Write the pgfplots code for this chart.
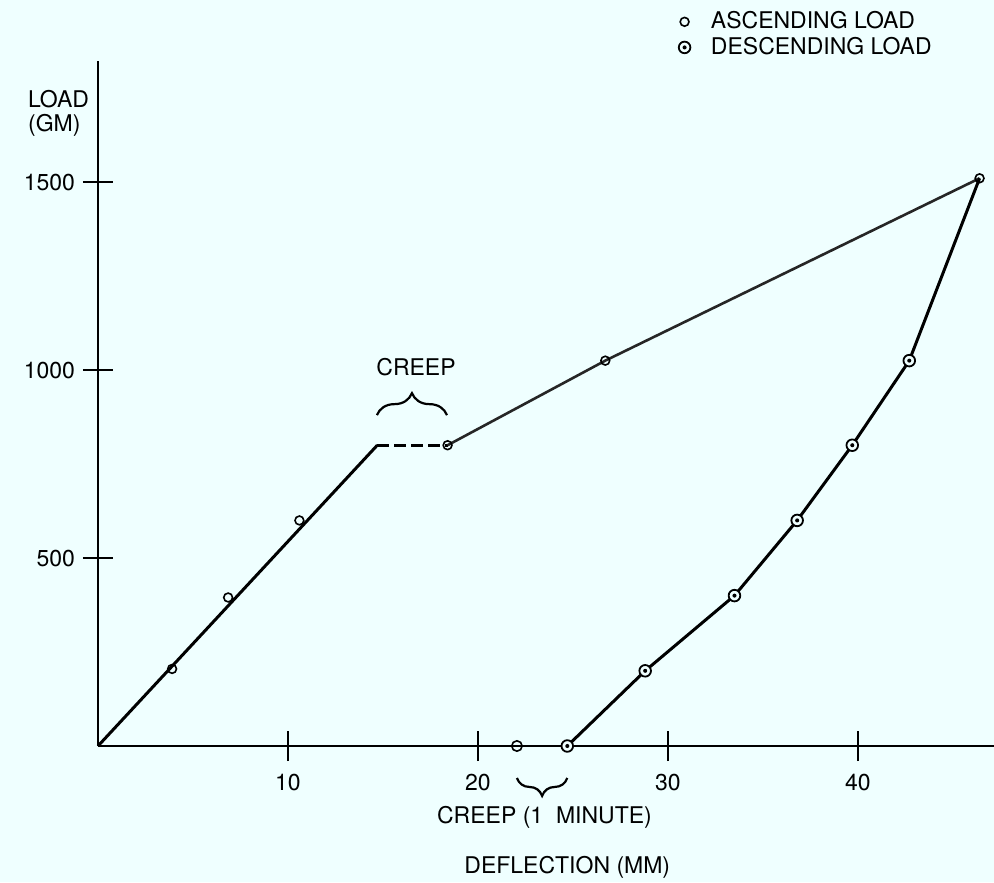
\documentclass[border=0pt]{standalone}
\usepackage{fontspec}
\setmainfont{TeX Gyre Heros}
\usepackage{pgfplots}
\pgfplotsset{compat=1.18}
\usetikzlibrary{decorations.pathreplacing}

\definecolor{paper}{RGB}{239,255,255}

% circle with a dot in the middle, used for the descending-load readings
\pgfdeclareplotmark{odot}{%
  \pgfpathcircle{\pgfpointorigin}{\pgfplotmarksize}%
  \pgfusepathqfillstroke
  \begin{pgfscope}%
    \pgfsetfillcolor{black}%
    \pgfpathcircle{\pgfpointorigin}{0.35\pgfplotmarksize}%
    \pgfusepathqfill
  \end{pgfscope}%
}

\begin{document}
\begin{tikzpicture}
\fontsize{11.5}{12}\selectfont
\fill[paper] (-49pt,-68pt) rectangle (448pt,373pt);
\begin{axis}[
  scale only axis,
  width=448pt, height=342.5pt,
  xmin=0, xmax=47.16, ymin=0, ymax=1822,
  axis x line=bottom, axis y line=left,
  axis line style={-, line width=1.4pt, black},
  xtick={10,20,30,40}, ytick={500,1000,1500},
  tick align=center, major tick length=15pt,
  every tick/.style={black, line width=1.4pt},
  /pgf/number format/assume math mode=true,
  /pgf/number format/1000 sep={},
  ticklabel style={font=\fontsize{11.5}{12}\selectfont},
  xticklabel shift=2.5pt, yticklabel shift=0pt,
  clip=false,
  legend style={draw=none, fill=none, at={(axis cs:30.2,1976)}, anchor=north west,
    font=\fontsize{11.5}{12}\selectfont, row sep=-1.5pt,
    /tikz/every even column/.append style={column sep=0pt}},
  legend cell align=left,
  legend image code/.code={\path (-3pt,0) (11pt,0); \draw[#1] plot coordinates {(0pt,0pt)};},
]
% ascending load: elastic part, creep plateau, upper part
\addplot[forget plot, black, line width=1.5pt] coordinates {(0,0) (14.7,800)};
\addplot[forget plot, black, line width=1.5pt, dash pattern=on 6pt off 2.5pt] coordinates {(14.7,800) (18.4,800)};
\addplot[forget plot, black!85, line width=1.3pt] coordinates {(18.4,800) (26.7,1025) (46.4,1510)};
% descending load
\addplot[forget plot, black, line width=1.5pt] coordinates {
  (46.4,1510) (42.7,1025) (39.7,800) (36.8,600) (33.5,400) (28.8,200) (24.7,0)};
% creep after unloading
\addplot[forget plot, black, line width=0.8pt] coordinates {(24.7,0) (22.05,0)};
\addplot[forget plot, only marks, mark=o, mark size=2.6pt, mark options={draw=black, fill=paper, line width=0.8pt}]
  coordinates {(22.05,0)};

\addplot[only marks, mark=o, mark size=2.2pt, mark options={draw=black, fill=paper, line width=0.8pt}]
  coordinates {(3.9,205) (6.85,395) (10.6,600) (18.4,800) (26.7,1025) (46.4,1510)};
\addlegendentry{ASCENDING LOAD}
\addplot[only marks, mark=odot, mark size=2.9pt, mark options={draw=black, fill=paper, line width=0.9pt}]
  coordinates {(42.7,1025) (39.7,800) (36.8,600) (33.5,400) (28.8,200) (24.7,0)};
\addlegendentry{DESCENDING LOAD}

% annotations
\node[anchor=west, align=left, inner sep=0pt] at (axis cs:-3.7,1683) {LOAD\\(GM)};
\node at (axis cs:16.74,1008) {CREEP};
\draw[decorate, decoration={brace, amplitude=11pt}, line width=1.1pt]
  (axis cs:14.68,880) -- (axis cs:18.37,880);
\draw[decorate, decoration={brace, amplitude=9pt}, line width=1.1pt]
  (axis cs:24.7,-85) -- (axis cs:22.05,-85);
\node at (axis cs:23.5,-189) {CREEP (1\ \ MINUTE)};
\node at (axis cs:24.7,-322) {DEFLECTION (MM)};
\end{axis}
\pgfresetboundingbox
\path (-49pt,-68pt) rectangle (448pt,373pt);
\end{tikzpicture}
\end{document}
